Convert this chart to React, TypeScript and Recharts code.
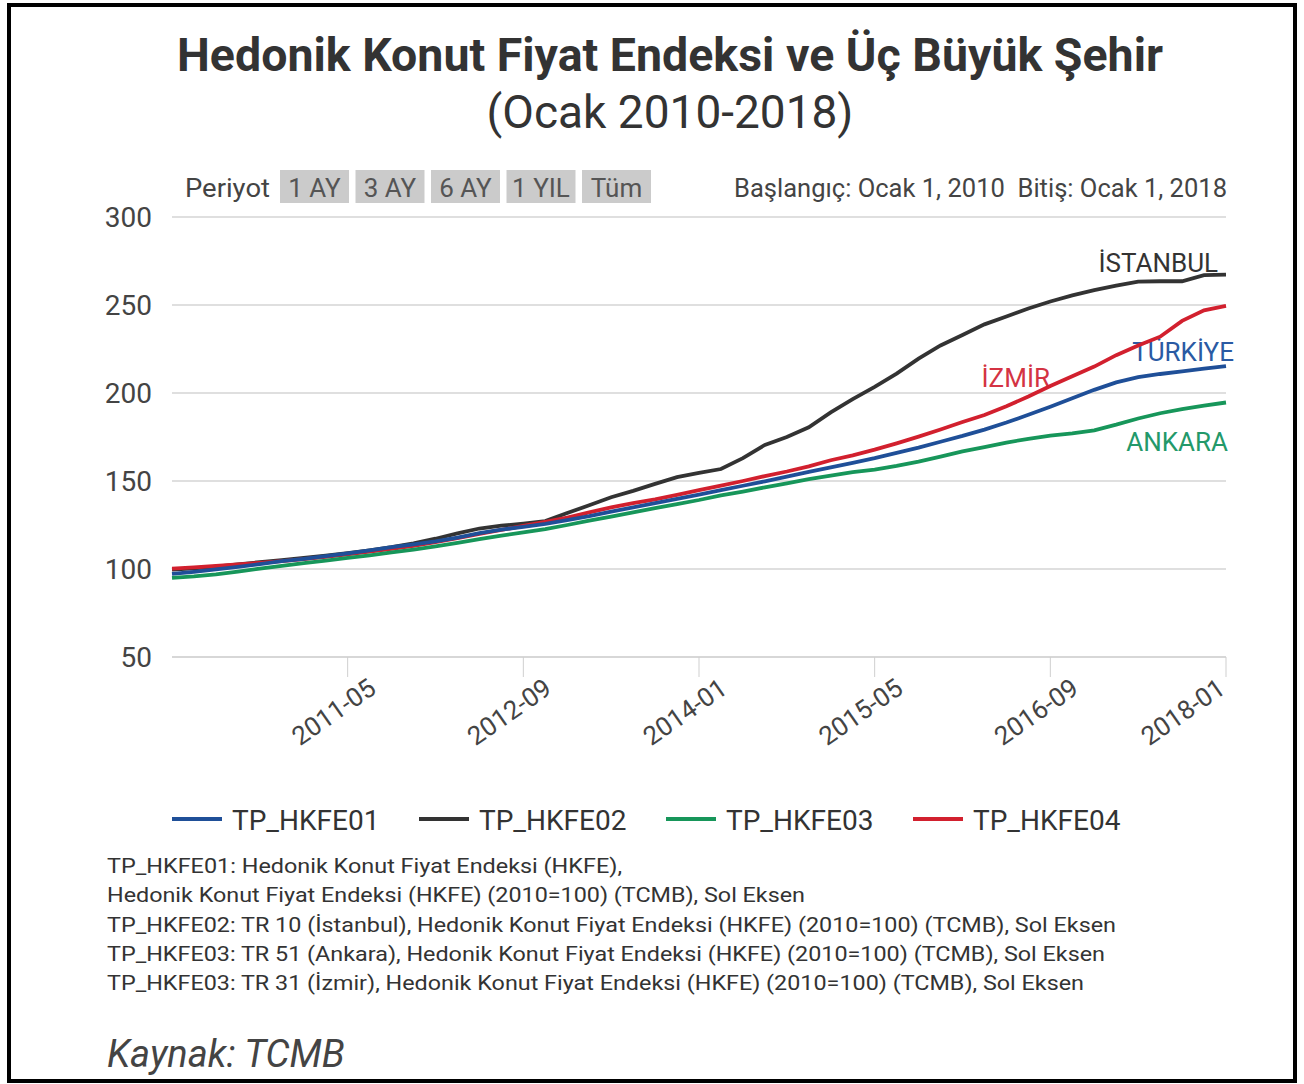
import React from "react";
import { LineChart, Line, XAxis, YAxis, CartesianGrid } from "recharts";

// bi-monthly points, Ocak 2010 - Ocak 2018
const dates = [
  "2010-01", "2010-03", "2010-05", "2010-07", "2010-09", "2010-11",
  "2011-01", "2011-03", "2011-05", "2011-07", "2011-09", "2011-11",
  "2012-01", "2012-03", "2012-05", "2012-07", "2012-09", "2012-11",
  "2013-01", "2013-03", "2013-05", "2013-07", "2013-09", "2013-11",
  "2014-01", "2014-03", "2014-05", "2014-07", "2014-09", "2014-11",
  "2015-01", "2015-03", "2015-05", "2015-07", "2015-09", "2015-11",
  "2016-01", "2016-03", "2016-05", "2016-07", "2016-09", "2016-11",
  "2017-01", "2017-03", "2017-05", "2017-07", "2017-09", "2017-11",
  "2018-01",
];

const hkfe01 = [
  97.2, 98.4, 99.8, 101.2, 102.8, 104.5, 105.8, 107.3, 108.9, 110.6, 112.4, 114,
  115.7, 117.8, 120.4, 122.4, 124, 125.6, 127.8, 130, 132.6, 135, 137.4, 139.8,
  142.2, 144.8, 147.3, 149.8, 152.5, 155.2, 157.8, 160.3, 163, 166, 169, 172.3,
  175.6, 179.2, 183.2, 187.6, 192.2, 197, 201.8, 206, 209, 210.8, 212.3, 213.8,
  215.3,
];

const hkfe02 = [
  99.6, 100.4, 101.4, 102.6, 103.9, 105.1, 106.3, 107.6, 109, 110.6, 112.4, 114.6,
  117.2, 120.2, 123, 124.6, 125.8, 127.2, 131.8, 136.2, 140.8, 144.4, 148.4, 152.2,
  154.6, 156.8, 163, 170.5, 175, 180.5, 189, 196.5, 203.5, 211, 219.5, 227,
  233, 239, 243.5, 248, 252, 255.5, 258.5, 261, 263.3, 263.5, 263.5, 267,
  267.3,
];

const hkfe03 = [
  94.9, 95.8, 97, 98.5, 100.2, 101.8, 103.3, 104.8, 106.3, 107.8, 109.4, 111,
  112.8, 114.8, 117, 119, 120.8, 122.7, 125, 127.5, 129.8, 132.2, 134.6, 136.9,
  139.2, 141.8, 144, 146.4, 148.7, 151, 153, 155, 156.5, 158.6, 161, 163.8,
  166.8, 169.2, 171.8, 174, 175.8, 177, 178.8, 182, 185.5, 188.5, 190.8, 192.8,
  194.6,
];

const hkfe04 = [
  100.2, 100.9, 101.7, 102.6, 103.5, 104.5, 105.6, 106.9, 108.3, 109.9, 111.5, 113.2,
  115.2, 117.6, 120, 122.2, 124.5, 126.8, 129.2, 132.2, 135, 137.4, 139.6, 142.1,
  144.8, 147.4, 150, 152.8, 155.4, 158.3, 161.8, 164.6, 167.8, 171.4, 175.2, 179.3,
  183.5, 187.5, 192.5, 198, 204, 209.5, 215, 221.5, 227, 232, 241, 247,
  249.5,
];

const xTicks = ["2011-05", "2012-09", "2014-01", "2015-05", "2016-09", "2018-01"];
const yTicks = [50, 100, 150, 200, 250, 300];
const periods = ["1 AY", "3 AY", "6 AY", "1 YIL", "Tüm"];

const series = [
  { key: "TP_HKFE01", color: "#1f4f98" },
  { key: "TP_HKFE02", color: "#333333" },
  { key: "TP_HKFE03", color: "#17965a" },
  { key: "TP_HKFE04", color: "#d2202e" },
];

const notes = [
  "TP_HKFE01: Hedonik Konut Fiyat Endeksi (HKFE),",
  "Hedonik Konut Fiyat Endeksi (HKFE) (2010=100) (TCMB), Sol Eksen",
  "TP_HKFE02: TR 10 (İstanbul), Hedonik Konut Fiyat Endeksi (HKFE) (2010=100) (TCMB), Sol Eksen",
  "TP_HKFE03: TR 51 (Ankara), Hedonik Konut Fiyat Endeksi (HKFE) (2010=100) (TCMB), Sol Eksen",
  "TP_HKFE03: TR 31 (İzmir), Hedonik Konut Fiyat Endeksi (HKFE) (2010=100) (TCMB), Sol Eksen",
];
const noteWidths = [515, 698, 1009, 998, 977];

const rows = dates.map((d, i) => ({
  date: d,
  TP_HKFE01: hkfe01[i],
  TP_HKFE02: hkfe02[i],
  TP_HKFE03: hkfe03[i],
  TP_HKFE04: hkfe04[i],
}));

const font = "Roboto, 'Noto Sans', sans-serif";

function XTick(props: any) {
  const { x, y, payload } = props;
  const ax = Math.min(x + 30, 1227);
  return (
    <text
      x={ax}
      y={y + 13}
      textAnchor="end"
      fontSize={26}
      fill="#444"
      fontFamily={font}
      transform={`rotate(-35 ${ax} ${y + 13})`}
    >
      {payload.value}
    </text>
  );
}

export default function App() {
  // drawn back to front, green on top
  const drawOrder = ["TP_HKFE02", "TP_HKFE04", "TP_HKFE01", "TP_HKFE03"];
  return (
    <div style={{ position: "absolute", left: 0, top: 0, width: 1304, height: 1084, background: "#fff", fontFamily: font }}>
      <svg width={1304} height={1084} style={{ position: "absolute", left: 0, top: 0 }}>
        <text x={670} y={71} textAnchor="middle" fontSize={46} fontWeight={700} fill="#333" textLength={986} lengthAdjust="spacingAndGlyphs">
          Hedonik Konut Fiyat Endeksi ve Üç Büyük Şehir
        </text>
        <text x={670} y={128} textAnchor="middle" fontSize={46} fill="#333">
          (Ocak 2010-2018)
        </text>

        <text x={185} y={197} fontSize={25} fill="#444" textLength={85} lengthAdjust="spacingAndGlyphs">Periyot</text>
        {periods.map((p, i) => (
          <g key={p}>
            <rect x={280 + i * 75.5} y={170} width={69} height={33} fill="#cbcbcb" />
            <text x={280 + i * 75.5 + 34.5} y={197} textAnchor="middle" fontSize={26} fill="#555">
              {p}
            </text>
          </g>
        ))}
        <text x={1227} y={197} textAnchor="end" fontSize={25} fill="#444" textLength={493} lengthAdjust="spacingAndGlyphs">
          Başlangıç: Ocak 1, 2010{"\u00a0\u00a0"}Bitiş: Ocak 1, 2018
        </text>

        <text x={1218} y={272} textAnchor="end" fontSize={26} fill="#333">İSTANBUL</text>
        <text x={1234} y={361} textAnchor="end" fontSize={26} fill="#2a5aa3">TÜRKİYE</text>
        <text x={1050} y={387} textAnchor="end" fontSize={26} fill="#d43343">İZMİR</text>
        <text x={1228} y={451} textAnchor="end" fontSize={26} fill="#23996a">ANKARA</text>

        {series.map((s, i) => (
          <g key={s.key}>
            <rect x={172 + i * 247} y={817} width={50} height={4} fill={s.color} />
            <text x={232 + i * 247} y={830} fontSize={28} fill="#333">{s.key}</text>
          </g>
        ))}

        {notes.map((n, i) => (
          <text
            key={i}
            x={107}
            y={873 + i * 29.3}
            fontSize={21}
            fill="#333"
            textLength={noteWidths[i]}
            lengthAdjust="spacingAndGlyphs"
          >
            {n}
          </text>
        ))}

        <text x={107} y={1067} fontSize={38} fontStyle="italic" fill="#444">Kaynak: TCMB</text>

        <rect x={9} y={5} width={1286} height={1076} fill="none" stroke="#000" strokeWidth={4} />
      </svg>

      <div style={{ position: "absolute", left: 0, top: 0 }}>
        <LineChart width={1304} height={800} data={rows} margin={{ top: 217, right: 78, bottom: 0, left: 0 }}>
          <CartesianGrid vertical={false} stroke="#d4d4d4" strokeWidth={1.5} />
          <XAxis
            dataKey="date"
            ticks={xTicks}
            interval={0}
            height={143}
            tickSize={20}
            stroke="#cfcfcf"
            tick={<XTick />}
          />
          <YAxis
            domain={[50, 300]}
            ticks={yTicks}
            width={172}
            tickLine={false}
            axisLine={false}
            tickSize={0}
            tickMargin={20}
            tick={{ fontSize: 28, fill: "#444", fontFamily: font }}
          />
          {drawOrder.map((k) => {
            const s = series.find((q) => q.key === k)!;
            return (
              <Line
                key={k}
                type="linear"
                dataKey={k}
                stroke={s.color}
                strokeWidth={3.8}
                dot={false}
                activeDot={false}
                isAnimationActive={false}
              />
            );
          })}
        </LineChart>
      </div>
    </div>
  );
}
